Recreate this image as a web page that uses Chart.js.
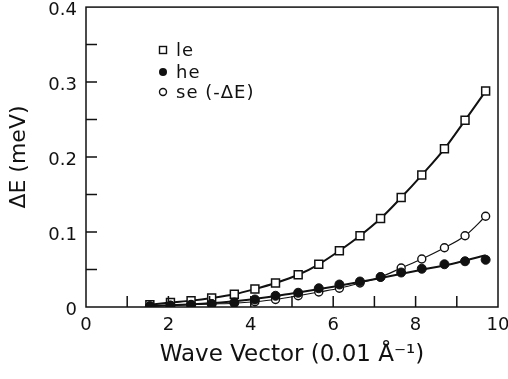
<!DOCTYPE html>
<html><head><meta charset="utf-8">
<script src="https://cdn.jsdelivr.net/npm/chart.js@4"></script>
<style>html,body{margin:0;padding:0;background:#fff}</style>
</head><body>
<canvas id="c" width="508" height="379"></canvas>
<script>
// wave vector (0.01 A^-1) of the measured points
const waveX=[1.55,2.05,2.55,3.05,3.6,4.1,4.6,5.15,5.65,6.15,6.65,7.15,7.65,8.15,8.7,9.2,9.7];
const leVals=[0.003,0.006,0.0085,0.012,0.017,0.024,0.032,0.043,0.057,0.075,0.095,0.118,0.146,0.176,0.211,0.249,0.288];
const heVals=[0.001,0.002,0.003,0.004,0.006,0.010,0.015,0.019,0.025,0.030,0.034,0.040,0.046,0.051,0.057,0.061,0.063];
const seVals=[0.001,0.002,0.003,0.004,0.005,0.007,0.010,0.015,0.020,0.025,0.032,0.040,0.052,0.064,0.079,0.095,0.121];
// fitted curve for he
const heFitX=[1.55,3,4,5,6,7,8,9,9.7];
const heFitVals=[0.001,0.005,0.010,0.018,0.027,0.037,0.048,0.059,0.069];
const xLabels=[0,2,4,6,8,10];
const yLabels=[0,0.1,0.2,0.3,0.4];
const legendNames=['le','he','se (-\u0394E)'];

const pts=(xs,ys)=>xs.map((x,i)=>({x,y:ys[i]}));
const FONT='"DejaVu Sans", sans-serif';

const frame={id:'frame',afterDatasetsDraw(ch){
  const {ctx,chartArea:a,scales:{x,y}}=ch;
  ctx.save();ctx.strokeStyle='#111';ctx.lineWidth=1.5;
  ctx.strokeRect(a.left,a.top,a.right-a.left,a.bottom-a.top);
  ctx.beginPath();
  for(let v=1;v<10;v++){const px=x.getPixelForValue(v);ctx.moveTo(px,a.bottom);ctx.lineTo(px,a.bottom-11);}
  for(let k=1;k<8;k++){const py=y.getPixelForValue(k*0.05);ctx.moveTo(a.left,py);ctx.lineTo(a.left+11,py);}
  ctx.stroke();
  ctx.fillStyle='#111';
  // y tick labels, sitting a little below their ticks as in the print
  ctx.font='18px '+FONT;ctx.textAlign='right';ctx.textBaseline='middle';
  yLabels.forEach(v=>ctx.fillText(v===0?'0':v.toFixed(1),a.left-9,y.getPixelForValue(v)+3));
  // legend
  ctx.textAlign='left';ctx.letterSpacing='1px';
  const lx=163,ly=[50,72,92];
  ctx.lineWidth=1.4;
  ctx.strokeRect(lx-3.5,ly[0]-3.5,7,7);
  ctx.beginPath();ctx.arc(lx,ly[1],4,0,Math.PI*2);ctx.fill();
  ctx.beginPath();ctx.arc(lx,ly[2],3.5,0,Math.PI*2);ctx.stroke();
  legendNames.forEach((t,i)=>ctx.fillText(t,lx+13,ly[i]+1));
  ctx.restore();
}};

new Chart(document.getElementById('c'),{
  type:'scatter',
  data:{datasets:[
    {label:'heFit',data:pts(heFitX,heFitVals),showLine:true,borderColor:'#111',borderWidth:2,pointRadius:0,cubicInterpolationMode:'monotone'},
    {label:'he',data:pts(waveX,heVals),showLine:false,pointStyle:'circle',pointRadius:4.5,backgroundColor:'#111',borderColor:'#111',borderWidth:1},
    {label:'se',data:pts(waveX,seVals),showLine:true,borderColor:'#111',borderWidth:1.2,cubicInterpolationMode:'monotone',pointStyle:'circle',pointRadius:4,pointBackgroundColor:'#fff',pointBorderColor:'#111',pointBorderWidth:1.4},
    {label:'le',data:pts(waveX,leVals),showLine:true,borderColor:'#111',borderWidth:2,cubicInterpolationMode:'monotone',pointStyle:'rect',pointRadius:5.6,pointBackgroundColor:'#fff',pointBorderColor:'#111',pointBorderWidth:1.5}
  ]},
  options:{
    responsive:false,animation:false,
    layout:{padding:{top:7,right:10,left:0,bottom:0}},
    plugins:{legend:{display:false},tooltip:{enabled:false}},
    scales:{
      x:{type:'linear',min:0,max:10,
        afterBuildTicks:s=>{s.ticks=xLabels.map(v=>({value:v}));},
        afterFit:s=>{s.height=72;s.paddingLeft=0;s.paddingRight=0;},
        grid:{drawOnChartArea:false,drawTicks:false},border:{display:false},
        ticks:{padding:8,color:'#111',font:{family:FONT,size:18},maxRotation:0},
        title:{display:true,text:'Wave Vector (0.01 \u00C5\u207B\u00B9)',color:'#111',font:{family:FONT,size:23},padding:{top:0,bottom:10}}},
      y:{type:'linear',min:0,max:0.4,
        afterBuildTicks:s=>{s.ticks=yLabels.map(v=>({value:v}));},
        afterFit:s=>{s.width=86;s.paddingTop=0;s.paddingBottom=0;},
        grid:{drawOnChartArea:false,drawTicks:false},border:{display:false},
        ticks:{display:false},
        title:{display:true,text:'\u0394E (meV)',color:'#111',font:{family:FONT,size:22},padding:{top:6,bottom:0}}}
    }
  },
  plugins:[frame]
});
</script>
</body></html>
